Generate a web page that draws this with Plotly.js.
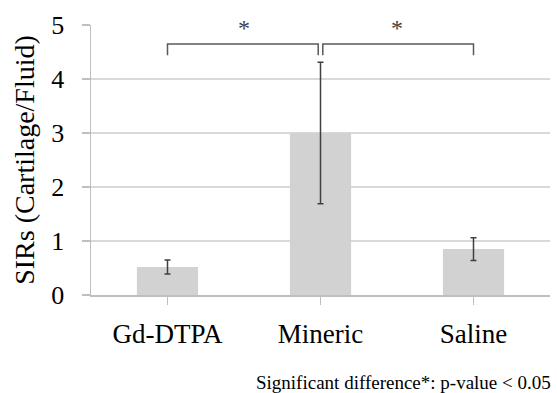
<!DOCTYPE html>
<html>
<head>
<meta charset="utf-8">
<script src="https://cdn.plot.ly/plotly-3.0.1.min.js"></script>
<style>html,body{margin:0;padding:0;background:#fff;}#chart{width:557px;height:393px;}</style>
</head>
<body>
<div id="chart"></div>
<script>
const categories = ["Gd-DTPA", "Mineric", "Saline"];
const sirValues = [0.52, 3.0, 0.85];
const sirErrors = [0.13, 1.31, 0.21];
const yTicks = [0, 1, 2, 3, 4, 5];
const comparisons = [[0, 1], [1, 2]];
const bracketLow = 4.44;
const bracketHigh = 4.65;
const starLevel = 5.0;
const footnote = "Significant difference*: p-value < 0.05";

const serif = "Liberation Serif";

const traces = [{
  type: "bar",
  x: [0, 1, 2],
  y: sirValues,
  width: 0.4,
  marker: {color: "#d2d2d2", line: {width: 0}},
  error_y: {type: "data", array: sirErrors, visible: true, color: "#404040", thickness: 1.5, width: 3},
  hoverinfo: "skip"
}];

const shapes = [];
const annotations = [];
comparisons.forEach(function (c, i) {
  const a = c[0] + (i === 1 ? 0.015 : 0);
  const b = c[1] - (i === 0 ? 0.015 : 0);
  shapes.push({
    type: "path", xref: "x", yref: "y",
    path: "M" + a + "," + bracketLow + " L" + a + "," + bracketHigh + " L" + b + "," + bracketHigh + " L" + b + "," + bracketLow,
    line: {color: "#595959", width: 1.5}
  });
  annotations.push({
    xref: "x", yref: "y", x: (c[0] + c[1]) / 2, y: starLevel, text: "*",
    showarrow: false, font: {family: serif, size: 24, color: "#404040"}, yshift: -3
  });
});
annotations.push({
  xref: "paper", yref: "paper", x: 1.0065, y: -0.325, xanchor: "right", yanchor: "middle",
  text: footnote, showarrow: false, font: {family: serif, size: 19, color: "#000"}
});

const layout = {
  width: 557, height: 393,
  margin: {l: 91, r: 7, t: 25, b: 98},
  paper_bgcolor: "#fff", plot_bgcolor: "#fff",
  showlegend: false,
  font: {family: serif, color: "#000"},
  xaxis: {
    range: [-0.5, 2.5],
    tickmode: "array", tickvals: [0, 1, 2], ticktext: categories,
    tickson: "boundaries",
    ticks: "outside", ticklen: 8, tickcolor: "#bfbfbf", tickwidth: 1.5,
    showline: true, linecolor: "#bfbfbf", linewidth: 1.5,
    showgrid: false, zeroline: false,
    tickfont: {family: serif, size: 27, color: "#000"},
    ticklabelstandoff: 6,
    fixedrange: true
  },
  yaxis: {
    range: [0, 5],
    tickmode: "array", tickvals: yTicks,
    ticks: "outside", ticklen: 8, tickcolor: "#bfbfbf", tickwidth: 1.5,
    showline: true, linecolor: "#bfbfbf", linewidth: 1.5,
    showgrid: true, gridcolor: "#d9d9d9", gridwidth: 1.5,
    zeroline: false,
    tickfont: {family: serif, size: 26, color: "#000"},
    ticklabelstandoff: 12,
    title: {text: "SIRs (Cartilage/Fluid)", font: {family: serif, size: 28, color: "#000"}, standoff: 8},
    fixedrange: true
  },
  shapes: shapes,
  annotations: annotations
};

Plotly.newPlot("chart", traces, layout, {displayModeBar: false, staticPlot: true});
</script>
</body>
</html>
